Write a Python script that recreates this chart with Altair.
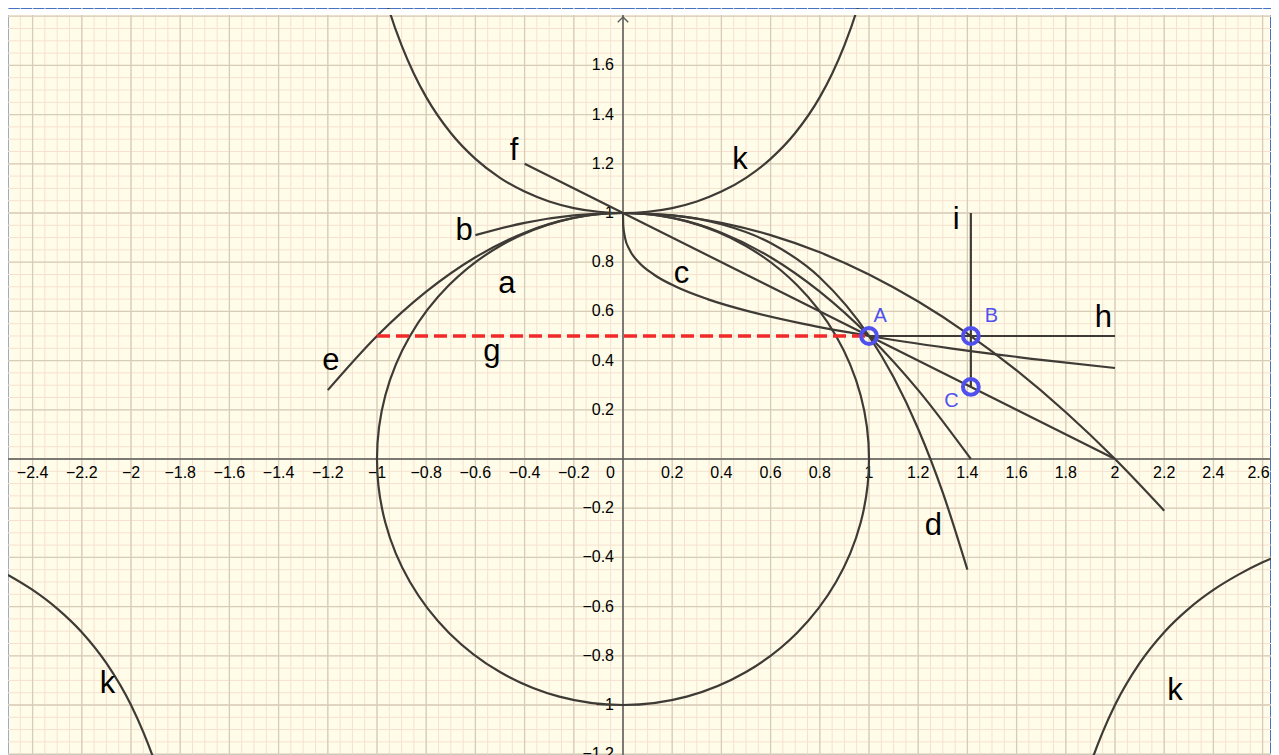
import altair as alt
import pandas as pd
import numpy as np

# ---------------- data ----------------
# a : circle (points around it)
a_x = [1.0, 0.966, 0.866, 0.707, 0.5, 0.259, 0.0, -0.259, -0.5, -0.707, -0.866, -0.966,
       -1.0, -0.966, -0.866, -0.707, -0.5, -0.259, 0.0, 0.259, 0.5, 0.707, 0.866, 0.966]
a_y = [0.0, 0.259, 0.5, 0.707, 0.866, 0.966, 1.0, 0.966, 0.866, 0.707, 0.5, 0.259,
       0.0, -0.259, -0.5, -0.707, -0.866, -0.966, -1.0, -0.966, -0.866, -0.707, -0.5, -0.259]

b_x = [-0.6, -0.4, -0.2, 0.0, 0.2, 0.4, 0.6, 0.8, 1.0, 1.2, 1.4, 1.6, 1.8, 2.0, 2.2]
b_y = [0.91, 0.96, 0.99, 1.0, 0.99, 0.96, 0.91, 0.84, 0.75, 0.64, 0.51, 0.36, 0.19, 0.0, -0.21]

c_x = [0.0, 0.001, 0.008, 0.027, 0.064, 0.125, 0.216, 0.343, 0.512, 0.729, 1.0, 1.331, 1.728, 2.0]
c_y = [1.0, 0.95, 0.9, 0.85, 0.8, 0.75, 0.7, 0.65, 0.6, 0.55, 0.5, 0.45, 0.4, 0.37]

d_x = [0.0, 0.2, 0.4, 0.6, 0.8, 1.0, 1.1, 1.2, 1.3, 1.4]
d_y = [1.0, 0.99, 0.954, 0.878, 0.738, 0.5, 0.332, 0.122, -0.137, -0.45]

e_x = [-1.2, -1.0, -0.8, -0.6, -0.4, -0.2, 0.0, 0.2, 0.4, 0.6, 0.8, 1.0, 1.2, 1.414]
e_y = [0.28, 0.5, 0.68, 0.82, 0.92, 0.98, 1.0, 0.98, 0.92, 0.82, 0.68, 0.5, 0.28, 0.0]

f_x = [-0.4, 2.0]
f_y = [1.2, 0.0]

k_mid_x = [-1.0, -0.95, -0.9, -0.85, -0.8, -0.7, -0.6, -0.5, -0.4, -0.3, -0.2, -0.1, 0.0,
           0.1, 0.2, 0.3, 0.4, 0.5, 0.6, 0.7, 0.8, 0.85, 0.9, 0.95, 1.0]
k_mid_y = [2.0, 1.822, 1.681, 1.566, 1.471, 1.325, 1.220, 1.143, 1.087, 1.047, 1.020, 1.005, 1.0,
           1.005, 1.020, 1.047, 1.087, 1.143, 1.220, 1.325, 1.471, 1.566, 1.681, 1.822, 2.0]
k_left_x = [-2.5, -2.4, -2.3, -2.2, -2.1, -2.0, -1.95, -1.9, -1.85]
k_left_y = [-0.471, -0.532, -0.608, -0.704, -0.830, -1.0, -1.110, -1.242, -1.406]
k_right_x = [1.85, 1.9, 1.95, 2.0, 2.1, 2.2, 2.3, 2.4, 2.5, 2.6, 2.65]
k_right_y = [-1.406, -1.242, -1.110, -1.0, -0.830, -0.704, -0.608, -0.532, -0.471, -0.420, -0.398]

g_x = [-1.0, 1.0]
g_y = [0.5, 0.5]
h_x = [1.0, 2.0]
h_y = [0.5, 0.5]
i_x = [1.414, 1.414]
i_y = [1.0, 0.293]

pt_names = ["A", "B", "C"]
pt_x = [1.0, 1.414, 1.414]
pt_y = [0.5, 0.5, 0.293]
pt_lab_x = [1.045, 1.498, 1.335]
pt_lab_y = [0.557, 0.557, 0.211]

lab_text = ["a", "b", "c", "d", "e", "f", "g", "h", "i", "k", "k", "k"]
lab_x = [-0.472, -0.646, 0.238, 1.262, -1.187, -0.443, -0.533, 1.953, 1.354, 0.476, -2.096, 2.244]
lab_y = [0.675, 0.890, 0.715, -0.309, 0.362, 1.215, 0.398, 0.537, 0.935, 1.179, -0.951, -0.980]

x_ticks = [-2.4, -2.2, -2.0, -1.8, -1.6, -1.4, -1.2, -1.0, -0.8, -0.6, -0.4, -0.2,
           0.2, 0.4, 0.6, 0.8, 1.0, 1.2, 1.4, 1.6, 1.8, 2.0, 2.2, 2.4]
x_tick_last = [2.6]
y_ticks = [-1.2, -1.0, -0.8, -0.6, -0.4, -0.2, 0.2, 0.4, 0.6, 0.8, 1.0, 1.2, 1.4, 1.6]

# ---------------- styling ----------------
W, H = 1263, 747
PX = 246.0  # pixels per unit
XD = [-2.5, -2.5 + W / PX]
YD = [1.8333 - H / PX, 1.8333]
BG = "#fffde9"
MINOR = "#f7e0cf"
MAJOR = "#d6cdb8"
AXIS = "#5a5a5a"
CURVE = "#3e3a36"
BLUE = "#5050ee"
RED = "#f02a2a"
FONT = "Liberation Sans"

XS = alt.Scale(domain=XD, nice=False, zero=False)
YS = alt.Scale(domain=YD, nice=False, zero=False)


def X(f="x"):
    return alt.X(f"{f}:Q", scale=XS, axis=None)


def Y(f="y"):
    return alt.Y(f"{f}:Q", scale=YS, axis=None)


def fmt(v):
    s = f"{v:g}"
    return s.replace("-", "\u2212")


# grid positions
gx_minor = [round(v, 3) for v in np.arange(-2.5, XD[1] + 0.001, 0.05)]
gy_minor = [round(v, 3) for v in np.arange(-1.2, 1.8301, 0.05)]
gx_major = [round(v, 3) for v in np.arange(-2.4, 2.6001, 0.2)]
gy_major = [round(v, 3) for v in np.arange(-1.2, 1.8001, 0.2)]

layers = []
layers.append(alt.Chart(pd.DataFrame({"x": gx_minor})).mark_rule(color=MINOR, strokeWidth=1).encode(x=X()))
layers.append(alt.Chart(pd.DataFrame({"y": gy_minor})).mark_rule(color=MINOR, strokeWidth=1).encode(y=Y()))
layers.append(alt.Chart(pd.DataFrame({"x": gx_major})).mark_rule(color=MAJOR, strokeWidth=1.3).encode(x=X()))
layers.append(alt.Chart(pd.DataFrame({"y": gy_major})).mark_rule(color=MAJOR, strokeWidth=1.3).encode(y=Y()))

# axes
layers.append(alt.Chart(pd.DataFrame({"x": [0.0]})).mark_rule(color=AXIS, strokeWidth=1.5).encode(x=X()))
layers.append(alt.Chart(pd.DataFrame({"y": [0.0]})).mark_rule(color=AXIS, strokeWidth=1.5).encode(y=Y()))

# tick labels
xt = pd.DataFrame({"x": x_ticks, "y": [0.0] * len(x_ticks), "t": [fmt(v) for v in x_ticks]})
layers.append(alt.Chart(xt).mark_text(font=FONT, fontSize=16, color="black", align="center",
                                      baseline="middle", dy=14).encode(x=X(), y=Y(), text="t:N"))
xt2 = pd.DataFrame({"x": x_tick_last, "y": [0.0], "t": [fmt(v) for v in x_tick_last]})
layers.append(alt.Chart(xt2).mark_text(font=FONT, fontSize=16, color="black", align="center",
                                       baseline="middle", dy=14, dx=-4).encode(x=X(), y=Y(), text="t:N"))
yt = pd.DataFrame({"x": [0.0] * len(y_ticks), "y": y_ticks, "t": [fmt(v) for v in y_ticks]})
layers.append(alt.Chart(yt).mark_text(font=FONT, fontSize=16, color="black", align="right",
                                      baseline="middle", dx=-9).encode(x=X(), y=Y(), text="t:N"))
layers.append(alt.Chart(pd.DataFrame({"x": [0.0], "y": [0.0], "t": ["0"]})).mark_text(
    font=FONT, fontSize=16, color="black", align="right", baseline="middle", dx=-8, dy=14
).encode(x=X(), y=Y(), text="t:N"))

# function curves
rows = []
for name, xs, ys in [("b", b_x, b_y), ("c", c_x, c_y), ("d", d_x, d_y), ("e", e_x, e_y),
                     ("f", f_x, f_y), ("k1", k_mid_x, k_mid_y), ("k2", k_left_x, k_left_y),
                     ("k3", k_right_x, k_right_y)]:
    for i, (xv, yv) in enumerate(zip(xs, ys)):
        rows.append({"name": name, "i": i, "x": xv, "y": yv})
curves = pd.DataFrame(rows)
layers.append(alt.Chart(curves).mark_line(color=CURVE, strokeWidth=2.2, interpolate="monotone", clip=True)
              .encode(x=X(), y=Y(), detail="name:N", order="i:Q"))

circ = pd.DataFrame({"x": a_x, "y": a_y, "i": list(range(len(a_x)))})
layers.append(alt.Chart(circ).mark_line(color=CURVE, strokeWidth=2.2, interpolate="cardinal-closed", clip=True)
              .encode(x=X(), y=Y(), order="i:Q"))

# segments
seg_rows = []
for name, xs, ys in [("h", h_x, h_y), ("i", i_x, i_y)]:
    for i, (xv, yv) in enumerate(zip(xs, ys)):
        seg_rows.append({"name": name, "i": i, "x": xv, "y": yv})
layers.append(alt.Chart(pd.DataFrame(seg_rows)).mark_line(color=CURVE, strokeWidth=2.2, clip=True)
              .encode(x=X(), y=Y(), detail="name:N", order="i:Q"))

layers.append(alt.Chart(pd.DataFrame({"x": g_x, "y": g_y, "i": [0, 1]}))
              .mark_line(color=RED, strokeWidth=3.5, strokeDash=[13, 6], clip=True)
              .encode(x=X(), y=Y(), order="i:Q"))

# points
pts = pd.DataFrame({"x": pt_x, "y": pt_y, "n": pt_names, "lx": pt_lab_x, "ly": pt_lab_y})
layers.append(alt.Chart(pts).mark_point(shape="circle", filled=False, size=250, strokeWidth=4,
                                        color=BLUE, opacity=1).encode(x=X(), y=Y()))
layers.append(alt.Chart(pts).mark_text(font=FONT, fontSize=20, color=BLUE, align="center",
                                       baseline="alphabetic").encode(x=X("lx"), y=Y("ly"), text="n:N"))

# curve names
labs = pd.DataFrame({"x": lab_x, "y": lab_y, "t": lab_text})
layers.append(alt.Chart(labs).mark_text(font=FONT, fontSize=31, color="black", align="center",
                                        baseline="alphabetic").encode(x=X(), y=Y(), text="t:N"))

# white strip along the top edge and the y-axis arrow
layers.append(alt.Chart(alt.Data(values=[{}])).mark_rect(color="white").encode(
    x=alt.value(0), x2=alt.value(W), y=alt.value(1), y2=alt.value(7)))
layers.append(alt.Chart(pd.DataFrame({"x": [0.0]})).mark_point(
    shape="M-1,1L0,0L1,1", filled=False, size=110, strokeWidth=1.4, color=AXIS, opacity=1
).encode(x=X(), y=alt.value(9)))

chart = alt.layer(*layers).properties(
    width=W, height=H, padding=0, autosize=alt.AutoSizeParams(type="none"), background="white"
).configure_view(stroke="#4472c4", strokeWidth=2, fill=BG)

chart.save("out.html", embed_options={"renderer": "svg", "actions": False})
